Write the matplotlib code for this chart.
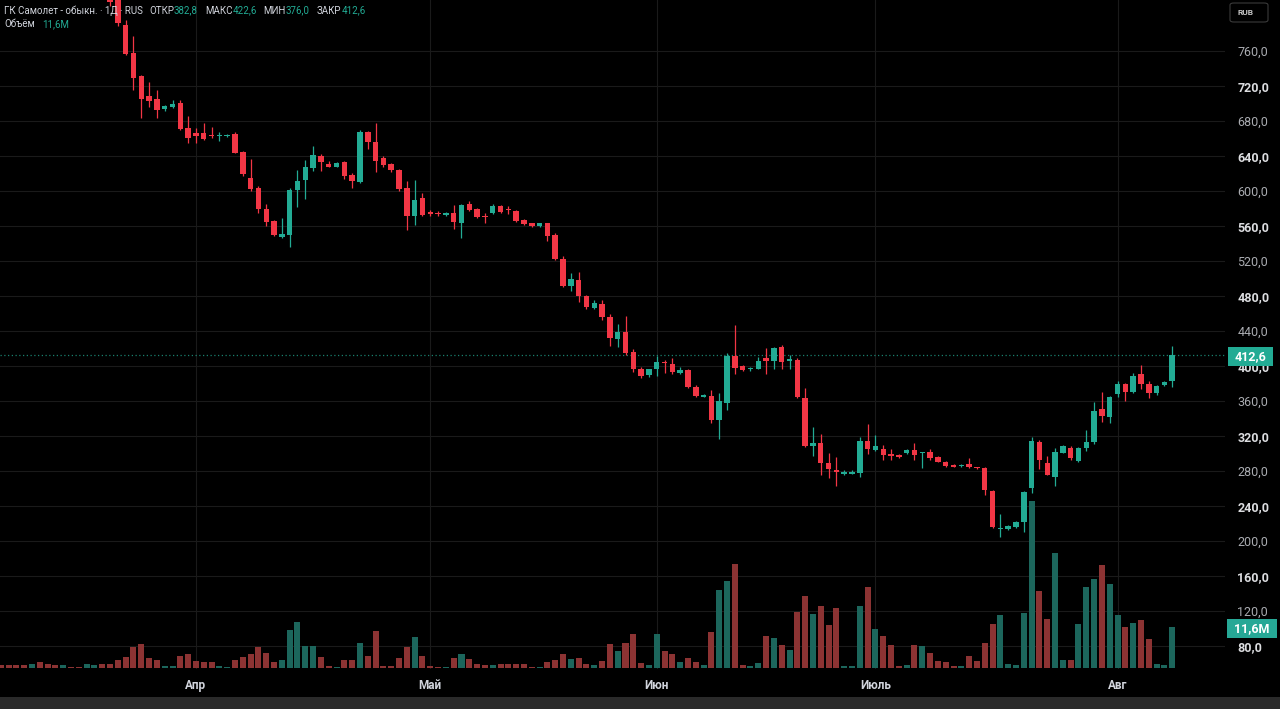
import numpy as np
import matplotlib
matplotlib.use("Agg")
from matplotlib import pyplot as plt
from matplotlib.lines import Line2D
from matplotlib.patches import Rectangle, FancyBboxPatch
from matplotlib.transforms import blended_transform_factory

plt.rcParams['font.family'] = ['Roboto', 'DejaVu Sans']

# =============================================================================
# Data (daily candles, index 0..150)
# =============================================================================
opens = [905, 898, 892, 886, 880, 887, 872, 865, 860, 864,
         862, 861, 866, 868, 842, 822, 790, 758, 731, 709,
         705, 694, 696, 701, 672, 666, 666, 664, 663, 663,
         665, 645, 615, 604, 579, 566, 548, 550, 601, 613,
         626, 640, 631, 628, 633, 618, 610, 668, 656, 638,
         630.5, 624, 603, 572, 592, 576, 574.5, 573, 574.5, 564,
         585, 580, 570.5, 575, 583, 578.5, 577, 567, 563, 560,
         563, 550, 522, 491, 498, 480, 466, 471, 456, 430.5,
         439, 416, 397, 390, 396, 404, 402, 392.5, 395.5, 376.5,
         365, 366, 338, 358, 411, 400, 396, 397, 409, 406,
         422, 405.5, 407, 363, 308.5, 312, 289.5, 281, 276.5, 277,
         278, 314.5, 304, 305, 299.4, 297.5, 300, 304, 300, 301.3,
         296.4, 290.6, 287, 285.5, 288, 284, 283, 257.5, 213.4, 213.3,
         216.4, 221.4, 260.2, 313.5, 289.5, 273.5, 301, 306.7, 291.4, 306,
         313.5, 350.5, 341.4, 368, 379, 370.6, 390.9, 379.4, 368.8, 378.3,
         382.8]
highs = [910, 902, 895, 890, 890, 889, 876, 868, 866, 866,
         864, 868, 870, 870, 845, 826, 795, 777, 733, 725,
         716, 698, 704, 704, 686, 672, 678, 673, 668, 665,
         667, 646, 637, 606, 585, 567, 569, 603, 624, 635,
         651, 642, 634, 633, 634, 621, 670, 669, 678, 640,
         632, 625, 611, 613, 598, 578, 577, 576, 584, 585,
         589, 581, 575, 585, 584, 583, 578, 568, 564, 564,
         564, 552, 526, 506, 508, 481, 476, 476, 460, 448,
         457, 419, 399, 397, 411, 407, 409, 398.5, 397, 378,
         368, 372, 369, 415, 447, 401, 399, 410, 421, 422,
         424, 413, 409, 374.5, 330, 322, 301, 296, 281, 281,
         318.5, 334, 321, 310, 305, 299, 305, 311.6, 302, 305,
         297, 291, 288, 288, 294.5, 285, 284, 258, 230.9, 218,
         223, 257, 318.5, 315, 297, 306, 310, 308, 307, 327,
         359, 370.6, 366, 383.2, 381, 392, 401.1, 383, 378, 382.5,
         422.6]
lows = [896, 890, 884, 878, 878, 868, 862, 858, 858, 861,
        859, 859, 864, 840, 812, 789, 755, 715, 683, 696,
        684, 692, 695, 670, 655, 655, 658, 661, 657, 662,
        643, 617, 600, 575, 560, 549, 546, 536, 582, 591,
        623, 623, 627, 627, 614, 604, 609, 648, 622, 627,
        622, 600, 556, 561, 571, 572, 572, 571, 557, 546,
        577, 569, 563, 574, 575, 574, 565, 561, 559, 559,
        543, 521, 490, 486, 473, 465, 465, 453, 423, 422,
        413, 393, 386, 387, 389, 392, 391, 391, 375, 364,
        364, 335, 317, 350, 391, 394, 394, 396, 391, 397,
        397, 397, 363, 307, 297, 275, 272, 263, 275, 276,
        273.5, 299, 303, 293, 293, 295, 299, 293, 283, 292,
        290, 285, 284.5, 284.5, 283, 282, 252.6, 215, 205, 212,
        215, 210.6, 254.5, 282, 275, 263, 300, 293, 290, 303,
        311, 336.4, 334.5, 365, 360, 369, 374, 363, 367, 377.5,
        376]
closes = [898, 892, 886, 880, 887, 872, 865, 860, 864, 862,
          861, 866, 868, 842, 816, 792, 757, 729, 705, 703,
          693, 697, 700, 671, 661, 663, 660, 663, 664.5, 664,
          644, 619, 602, 579, 565, 550, 551, 601, 611, 627,
          641, 633.5, 628, 632, 617.5, 611, 667, 656, 634, 630,
          624, 602, 572, 590, 573, 573.5, 573.5, 574, 565, 584,
          578, 570, 570, 583, 576, 578, 566, 562, 560, 563,
          549, 522, 491, 499, 480, 467, 472, 456, 432, 439,
          415, 397, 388, 396, 404, 403, 393.5, 395.5, 376.5, 366,
          367, 338, 360, 411, 398, 395, 397.5, 406, 406, 421,
          405, 407.5, 364, 309, 312, 289.5, 282, 279, 278.5, 279,
          314.5, 305, 308, 298.3, 297, 296.5, 304, 298.3, 301, 295.2,
          290.6, 285.7, 285, 287, 284, 283, 258.3, 216.4, 214.5, 217.1,
          221.4, 256.4, 314.6, 292.6, 275.4, 302, 308.6, 294.5, 306.7, 313.5,
          349, 343.2, 365, 379, 370.6, 388.9, 379, 368.8, 377.1, 381.7,
          412.6]
# volume, millions
volumes = [0.8, 0.8, 0.6, 0.8, 1.1, 1.5, 1.1, 0.6, 0.6, 0.2,
           0.2, 1.1, 0.6, 1.1, 1.1, 2.2, 3.0, 5.8, 6.8, 2.7,
           2.2, 0.3, 0.3, 3.4, 4.0, 1.9, 1.7, 1.5, 0.3, 0.2,
           2.2, 3.0, 3.9, 5.8, 4.2, 1.7, 2.2, 10.7, 13.2, 6.2,
           6.2, 3.0, 0.3, 0.2, 2.2, 2.2, 7.0, 3.2, 10.6, 0.3,
           0.3, 2.7, 5.9, 8.9, 3.2, 0.3, 0.1, 0.1, 2.7, 3.9,
           2.4, 1.1, 0.8, 0.8, 1.1, 0.9, 0.9, 1.1, 0.2, 0.2,
           1.6, 2.2, 4.0, 2.4, 2.7, 1.1, 0.6, 1.9, 6.8, 4.8,
           7.2, 9.7, 1.3, 0.8, 9.6, 4.8, 3.9, 1.7, 2.7, 1.5,
           0.6, 10.1, 22.4, 24.8, 29.8, 0.8, 0.3, 1.3, 9.1, 8.4,
           6.5, 5.1, 15.9, 20.6, 15.4, 17.6, 12.1, 17.2, 0.3, 0.3,
           17.6, 23.1, 11.0, 9.2, 6.5, 0.3, 0.6, 6.5, 6.3, 4.1,
           1.9, 1.7, 0.3, 0.3, 3.3, 1.8, 7.1, 12.5, 15.0, 1.0,
           0.8, 15.7, 48.0, 21.9, 14.1, 33.0, 2.1, 2.1, 12.5, 23.2,
           25.6, 29.5, 24.0, 15.0, 11.7, 12.9, 13.6, 8.1, 1.0, 0.8,
           11.6]

month_idx = [25, 55, 84, 112, 143]
month_labels = ["Апр", "Май", "Июн", "Июль", "Авг"]
price_ticks = list(range(80, 761, 40))

last_price = 412.6
last_volume = "11,6M"

# =============================================================================
# Colours
# =============================================================================
UP = "#22ab94"
DOWN = "#f23645"
VOL_UP = "#1c665c"
VOL_DOWN = "#8c3333"
BG = "#000000"
GRID = "#1a1a1a"
TXT = "#d1d4dc"

# =============================================================================
# Figure / axes
# =============================================================================
W, H = 1280, 709
fig = plt.figure(figsize=(12.8, 7.09), dpi=100, facecolor=BG)

def fx(px):
    return px / W

def fy(py):
    return 1 - py / H

rect = [0, fy(669), fx(1225), 669 / H]
ax_vol = fig.add_axes(rect, facecolor=BG)
ax = fig.add_axes(rect, sharex=ax_vol)
ax.patch.set_visible(False)

idx = np.arange(len(closes))
o = np.array(opens)
c = np.array(closes)
up = c >= o

ax_vol.set_xlim(-0.09, 156.76)
ax.set_ylim(53.7, 818.3)
ax_vol.set_ylim(-0.43, 192.2)

# grid (drawn on the bottom axes so it sits behind volume)
gtrans = blended_transform_factory(ax_vol.transAxes, ax.transData)
for p in price_ticks:
    ax_vol.add_line(Line2D([0, 1], [p, p], transform=gtrans, color=GRID, lw=0.8, zorder=0))
for m in month_idx:
    ax_vol.axvline(m, color=GRID, lw=0.8, zorder=0)

# volume
ax_vol.bar(idx, volumes, width=0.77, color=np.where(up, VOL_UP, VOL_DOWN), zorder=1)

# candles
colors = np.where(up, UP, DOWN)
ax.vlines(idx, lows, highs, colors=colors, lw=0.9, zorder=2)
body_lo = np.minimum(o, c)
body_h = np.maximum(np.abs(c - o), 1.3)
ax.bar(idx, body_h, bottom=body_lo, width=0.7, color=colors, zorder=3)

# current price dotted line
ax.axhline(last_price, color=UP, lw=0.9, ls=(0, (1, 2)), alpha=0.75, zorder=1)

# axes styling
for a in (ax, ax_vol):
    for s in a.spines.values():
        s.set_visible(False)
ax_vol.set_yticks([])
ax_vol.tick_params(axis='x', labelbottom=False, length=0)

ax.set_xticks(month_idx)
ax.set_xticklabels(month_labels)
ax.tick_params(axis='x', length=0, pad=7, labelsize=8.5, labelcolor=TXT)
for t in ax.get_xticklabels():
    t.set_fontweight("bold")

ax.yaxis.tick_right()
ax.set_yticks(price_ticks)
ax.set_yticklabels([f"{v:.1f}".replace(".", ",") for v in price_ticks])
ax.tick_params(axis='y', length=0, pad=9, labelsize=9, labelcolor="#c6c8cc")
for v, t in zip(price_ticks, ax.get_yticklabels()):
    if (v // 40) % 2 == 0:
        t.set_fontweight("bold")
        t.set_color("#dcdde0")
    else:
        t.set_color("#a9abb0")

# bottom strip
fig.patches.append(Rectangle((0, 0), 1, 12 / H, transform=fig.transFigure,
                             facecolor="#2a2a2a", edgecolor="none", zorder=5))

# price label box
fig.patches.append(Rectangle((fx(1228), fy(366)), 45 / W, 19 / H, transform=fig.transFigure,
                             facecolor=UP, edgecolor="none", zorder=5))
fig.text(fx(1250.5), fy(356.5), f"{last_price:.1f}".replace(".", ","), color="white",
         fontsize=9, fontweight="bold", ha="center", va="center", zorder=6)

# volume label box
fig.patches.append(Rectangle((fx(1227), fy(638)), 50 / W, 19 / H, transform=fig.transFigure,
                             facecolor="#26a896", edgecolor="none", zorder=5))
fig.text(fx(1252), fy(628.5), last_volume, color="white",
         fontsize=9, fontweight="bold", ha="center", va="center", zorder=6)

# currency box
fig.patches.append(FancyBboxPatch((fx(1230), fy(22)), 38 / W, 19 / H,
                                  boxstyle="round,pad=0,rounding_size=0.003",
                                  transform=fig.transFigure, facecolor=BG,
                                  edgecolor="#3a3a3a", lw=0.8, zorder=5))
fig.text(fx(1237), fy(12.5), "RUB", color="#c8c8c8", fontsize=6,
         fontweight="bold", ha="left", va="center", zorder=6)

# header: pieces chained by measured width
renderer = fig.canvas.get_renderer()

def chain(y_px, parts, x_px=4):
    for gap, s, col in parts:
        x_px += gap
        t = fig.text(fx(x_px), fy(y_px), s, color=col, fontsize=7, va="center")
        bb = t.get_window_extent(renderer=renderer)
        x_px = bb.x1

chain(10.5, [(0, "ГК Самолет - обыкн. · 1Д · RUS", TXT),
             (6, "ОТКР", TXT), (0, "382,8", UP),
             (7, "МАКС", TXT), (0, "422,6", UP),
             (7, "МИН", TXT), (0, "376,0", UP),
             (7, "ЗАКР", TXT), (0, "412,6", UP)])
chain(24, [(0, "Объём", TXT), (7, "11,6M", UP)])

fig.savefig("out.png", dpi=100, facecolor=BG)
